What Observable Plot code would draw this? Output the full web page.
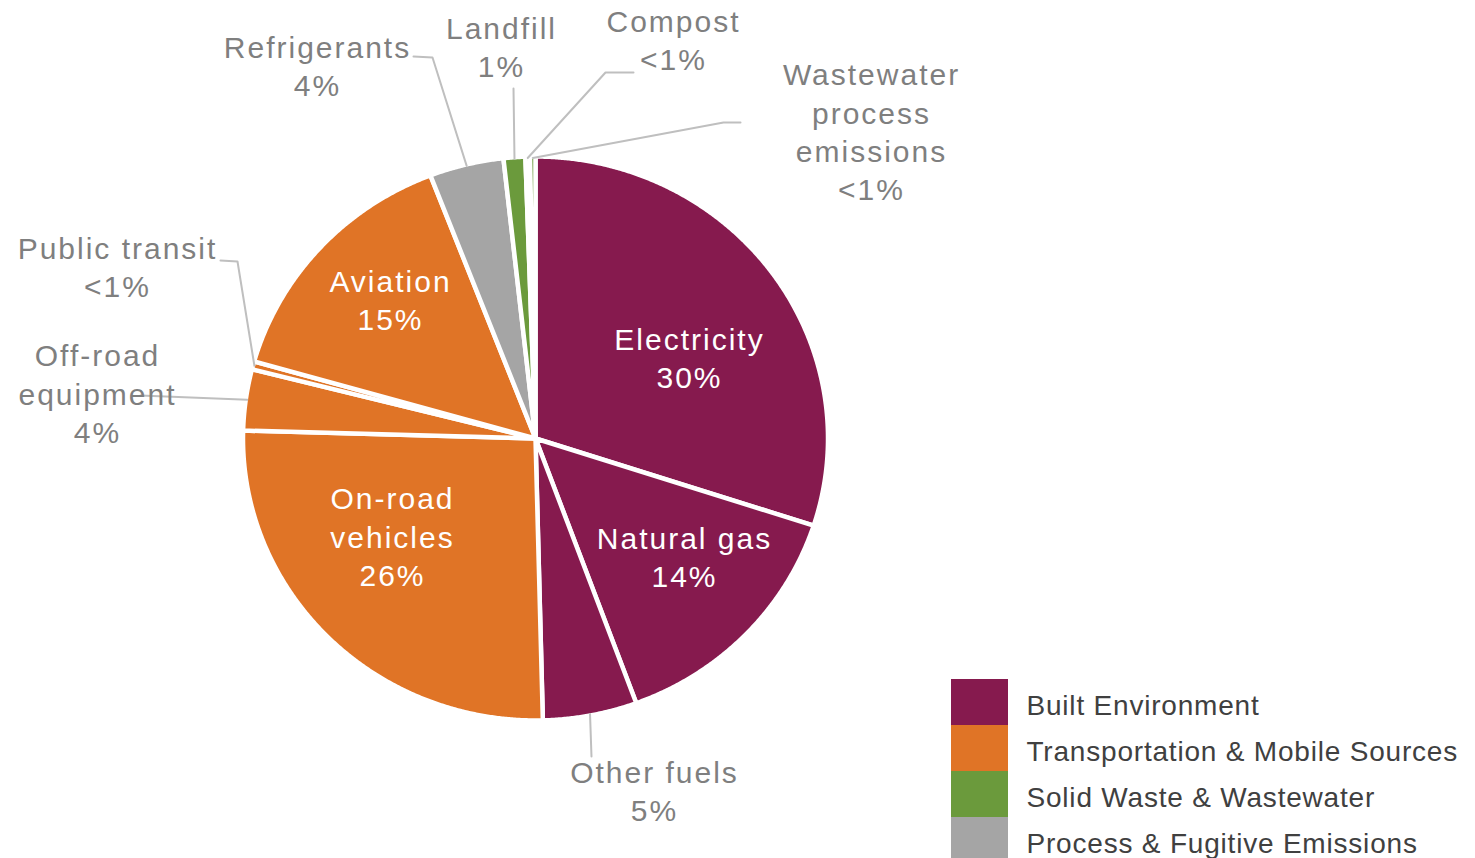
<!DOCTYPE html>
<html><head><meta charset="utf-8">
<script src="https://cdn.jsdelivr.net/npm/d3@7"></script>
<script src="https://cdn.jsdelivr.net/npm/@observablehq/plot@0.6"></script>
<style>
body{margin:0;background:#fff}
#chart svg text{letter-spacing:2px}
#chart svg g[font-size="28"] text{letter-spacing:0.8px}
</style></head><body><div id="chart"></div>
<script>
// ---- data ----
const names = ["Electricity","Natural gas","Other fuels","On-road vehicles","Off-road equipment","Public transit","Aviation","Refrigerants","Landfill","Compost","Wastewater process emissions"];
const shares = [30.0, 14.4, 5.2, 25.85, 3.5, 0.45, 14.75, 4.1, 1.2, 0.25, 0.3];
const pctLabels = ["30%","14%","5%","26%","4%","<1%","15%","4%","1%","<1%","<1%"];
const sectors = ["Built Environment","Built Environment","Built Environment","Transportation & Mobile Sources","Transportation & Mobile Sources","Transportation & Mobile Sources","Transportation & Mobile Sources","Process & Fugitive Emissions","Solid Waste & Wastewater","Solid Waste & Wastewater","Solid Waste & Wastewater"];
const sectorNames = ["Built Environment","Transportation & Mobile Sources","Solid Waste & Wastewater","Process & Fugitive Emissions"];
const sectorColors = ["#861A4E","#E07426","#6B9A3C","#A5A5A5"];
const displayNames = ["Electricity","Natural gas","Other fuels","On-road\nvehicles","Off-road\nequipment","Public transit","Aviation","Refrigerants","Landfill","Compost","Wastewater\nprocess\nemissions"];

// ---- layout ----
const W = 1475, H = 858;
const pie = {cx: 535, cy: 438, rx: 292.5, ry: 282};
const labelLayout = {
  "Electricity": {x: 689, y: 356, inside: true},
  "Natural gas": {x: 684, y: 555, inside: true},
  "Other fuels": {x: 654, y: 789, leader: [[591, 756]]},
  "On-road vehicles": {x: 392, y: 535, inside: true},
  "Off-road equipment": {x: 97, y: 392, leader: [[140, 395]]},
  "Public transit": {x: 117, y: 265, leader: [[220, 260], [237, 261]]},
  "Aviation": {x: 390, y: 298, inside: true},
  "Refrigerants": {x: 317, y: 64, leader: [[413, 56], [432, 57]]},
  "Landfill": {x: 501, y: 45, leader: [[513, 88]]},
  "Compost": {x: 673, y: 38, leader: [[633, 72], [605, 72]]},
  "Wastewater process emissions": {x: 871, y: 130, leader: [[740, 122], [723, 122]]}
};
const legend = {x1: 951, x2: 1008, y0: 679, row: 46, tx: 1026};

// ---- geometry ----
const total = d3.sum(shares);
let acc = 0;
const slices = names.map((n, i) => {
  const a0 = acc / total * 2 * Math.PI; acc += shares[i];
  const a1 = acc / total * 2 * Math.PI;
  return {name: n, sector: sectors[i], a0, a1, mid: (a0 + a1) / 2, i};
});
const pt = (a, r) => [pie.cx + r * pie.rx * Math.sin(a), pie.cy - r * pie.ry * Math.cos(a)];
const poly = slices.flatMap(s => {
  const n = Math.max(2, Math.ceil((s.a1 - s.a0) / 0.005));
  const pts = [{name: s.name, sector: s.sector, x: pie.cx, y: pie.cy}];
  for (let k = 0; k <= n; k++) {
    const [x, y] = pt(s.a0 + (s.a1 - s.a0) * k / n, 1);
    pts.push({name: s.name, sector: s.sector, x, y});
  }
  return pts;
});
const leaders = slices.filter(s => labelLayout[s.name].leader).flatMap(s => {
  const L = labelLayout[s.name].leader;
  const [ex, ey] = pt(s.mid, 0.995);
  return [...L.map(([x, y]) => ({name: s.name, x, y})), {name: s.name, x: ex, y: ey}];
});
const labelRows = slices.map(s => ({
  text: displayNames[s.i] + "\n" + pctLabels[s.i],
  x: labelLayout[s.name].x, y: labelLayout[s.name].y, inside: !!labelLayout[s.name].inside
}));

const chart = Plot.plot({
  width: W, height: H, margin: 0,
  x: {domain: [0, W], range: [0, W], axis: null},
  y: {domain: [0, H], range: [0, H], axis: null},
  color: {domain: sectorNames, range: sectorColors},
  style: {fontFamily: "'Liberation Sans', Arial, sans-serif", background: "white"},
  marks: [
    Plot.line(poly, {x: "x", y: "y", z: "name", fill: "sector", stroke: "white", strokeWidth: 4.5, strokeLinejoin: "round", curve: "linear-closed"}),
    Plot.line(leaders, {x: "x", y: "y", z: "name", stroke: "#BFBFBF", strokeWidth: 2, curve: "linear"}),
    Plot.text(labelRows.filter(d => d.inside), {x: "x", y: "y", text: "text", fill: "white", fontSize: 30, lineHeight: 1.28}),
    Plot.text(labelRows.filter(d => !d.inside), {x: "x", y: "y", text: "text", fill: "#7F7F7F", fontSize: 30, lineHeight: 1.28}),
    Plot.rect(sectorNames, {x1: () => legend.x1, x2: () => legend.x2, y1: (d, i) => legend.y0 + legend.row * i, y2: (d, i) => legend.y0 + legend.row * (i + 1), fill: d => d}),
    Plot.text(sectorNames, {x: () => legend.tx, y: (d, i) => legend.y0 + legend.row * i + 27, text: d => d, textAnchor: "start", fill: "#404040", fontSize: 28})
  ]
});
document.getElementById("chart").appendChild(chart);
</script></body></html>
